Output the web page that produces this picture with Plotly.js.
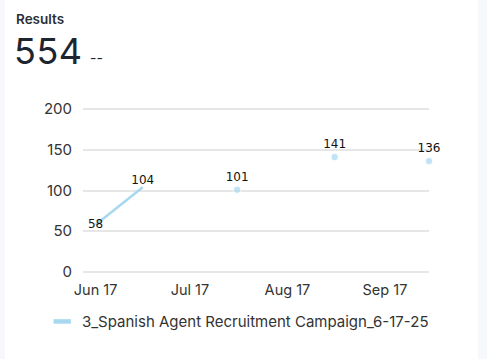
<!DOCTYPE html>
<html><head><meta charset="utf-8">
<script src="https://cdn.plot.ly/plotly-3.0.1.min.js"></script>
<style>
html,body{margin:0;padding:0;background:#f6f8fb;width:487px;height:359px;overflow:hidden;font-family:Inter,"Noto Sans",sans-serif;}
#card{position:absolute;left:5px;top:0;width:473px;height:359px;background:#fff;}
#ttl{position:absolute;left:11px;top:11px;font-size:13.5px;font-weight:600;color:#2b2f36;}
#big{position:absolute;left:9px;top:29px;font-size:36px;font-weight:400;color:#1d2530;letter-spacing:0.5px;}
#dash{position:absolute;left:85px;top:49px;font-size:14px;color:#1d2530;}
#plot{position:absolute;left:0;top:0;width:473px;height:359px;}
</style></head>
<body>
<div id="card">
<div id="plot"></div>
<div id="ttl">Results</div>
<div id="big">554</div>
<div id="dash">--</div>
</div>
<script>
const seriesName = "3_Spanish Agent Recruitment Campaign_6-17-25";
const dates = ["2025-06-17", "2025-07-02", "2025-07-16", "2025-08-01", "2025-08-16", "2025-09-01", "2025-09-16", "2025-10-01"];
const values = [58, 104, null, 101, null, 141, null, 136];
const labels = ["58", "104", "", "101", "", "141", "", "136"];
const xTickVals = ["2025-06-17", "2025-07-17", "2025-08-17", "2025-09-17"];
const xTickText = ["Jun 17", "Jul 17", "Aug 17", "Sep 17"];
const yTicks = [0, 50, 100, 150, 200];

const color = "#a7d8f0";
const markerSizes = values.map((v, i) => {
  const prev = i > 0 ? values[i - 1] : null;
  const next = i < values.length - 1 ? values[i + 1] : null;
  return (prev === null && next === null) ? 7.5 : 0;
});
const textPos = values.map((v, i) => i === 0 ? "middle center" : "top center");

const trace = {
  x: dates, y: values, type: "scatter", mode: "lines+markers+text",
  name: seriesName, connectgaps: false,
  line: {color: color, width: 2.5},
  marker: {color: color, size: markerSizes},
  text: labels, textposition: textPos,
  textfont: {family: "DejaVu Sans", size: 12, color: "#111"},
  cliponaxis: false, showlegend: false, hoverinfo: "none"
};

const layout = {
  width: 473, height: 359,
  margin: {l: 78, r: 49, t: 107, b: 84.5},
  paper_bgcolor: "rgba(0,0,0,0)", plot_bgcolor: "rgba(0,0,0,0)",
  font: {family: "Inter, Noto Sans, sans-serif", size: 15, color: "#333"},
  xaxis: {type: "date", range: ["2025-06-13", "2025-10-01"], tickvals: xTickVals, ticktext: xTickText,
    showgrid: false, zeroline: false, showline: false, ticks: "", ticklabelstandoff: 5, tickfont: {size: 14.5, color: "#333"}},
  yaxis: {range: [-2.5, 202.5], tickvals: yTicks, showgrid: true, gridcolor: "#e6e6e6", gridwidth: 2,
    zeroline: false, showline: false, ticks: "", ticklabelstandoff: 10, tickfont: {size: 15, color: "#333"}},
  shapes: [{type: "line", xref: "paper", yref: "paper", x0: -0.085, x1: -0.035, y0: -0.284, y1: -0.284,
    line: {color: color, width: 4.5}}],
  annotations: [{xref: "paper", yref: "paper", x: -0.01, y: -0.284, xanchor: "left", yanchor: "middle",
    text: seriesName, showarrow: false, font: {size: 15, color: "#333"}}]
};
Plotly.newPlot("plot", [trace], layout, {displayModeBar: false, staticPlot: true});
</script>
</body></html>
